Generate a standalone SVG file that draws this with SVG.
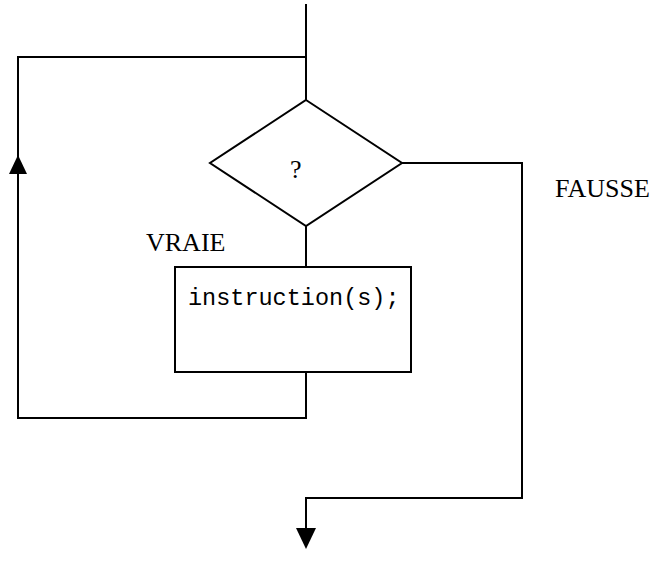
<svg xmlns="http://www.w3.org/2000/svg" width="655" height="572" viewBox="0 0 655 572">
<style>
.ln{fill:none;stroke:#000;stroke-width:2;stroke-linejoin:miter}
.shape{fill:#fff;stroke:#000;stroke-width:2}
.lbl{font-family:"Liberation Serif","Times New Roman",serif;font-size:26px;fill:#000}
.code{font-family:"Liberation Mono","Courier New",monospace;font-size:23.5px;fill:#000}
.head{fill:#000;stroke:none}
</style>
<rect width="655" height="572" fill="#fff"/>
<g id="connectors">
<path class="ln" d="M306,4 V100"/>
<path class="ln" d="M306,57 H18 V418 H306 V372"/>
<path class="ln" d="M306,226 V267"/>
<path class="ln" d="M402,163 H522 V498 H306 V530"/>
<polygon class="head" points="18,155 9,174 27,174"/>
<polygon class="head" points="306,549 296,528 316,528"/>
</g>
<g id="decision">
<polygon class="shape" points="306,100 402,163 306,226 210,163"/>
<text class="lbl" x="290" y="178">?</text>
</g>
<g id="instruction">
<rect class="shape" x="175" y="267" width="236" height="105"/>
<text class="code" x="188" y="305">instruction(s);</text>
</g>
<g id="label-vraie">
<text class="lbl" x="146" y="251">VRAIE</text>
</g>
<g id="label-fausse">
<text class="lbl" x="555" y="197">FAUSSE</text>
</g>
</svg>
